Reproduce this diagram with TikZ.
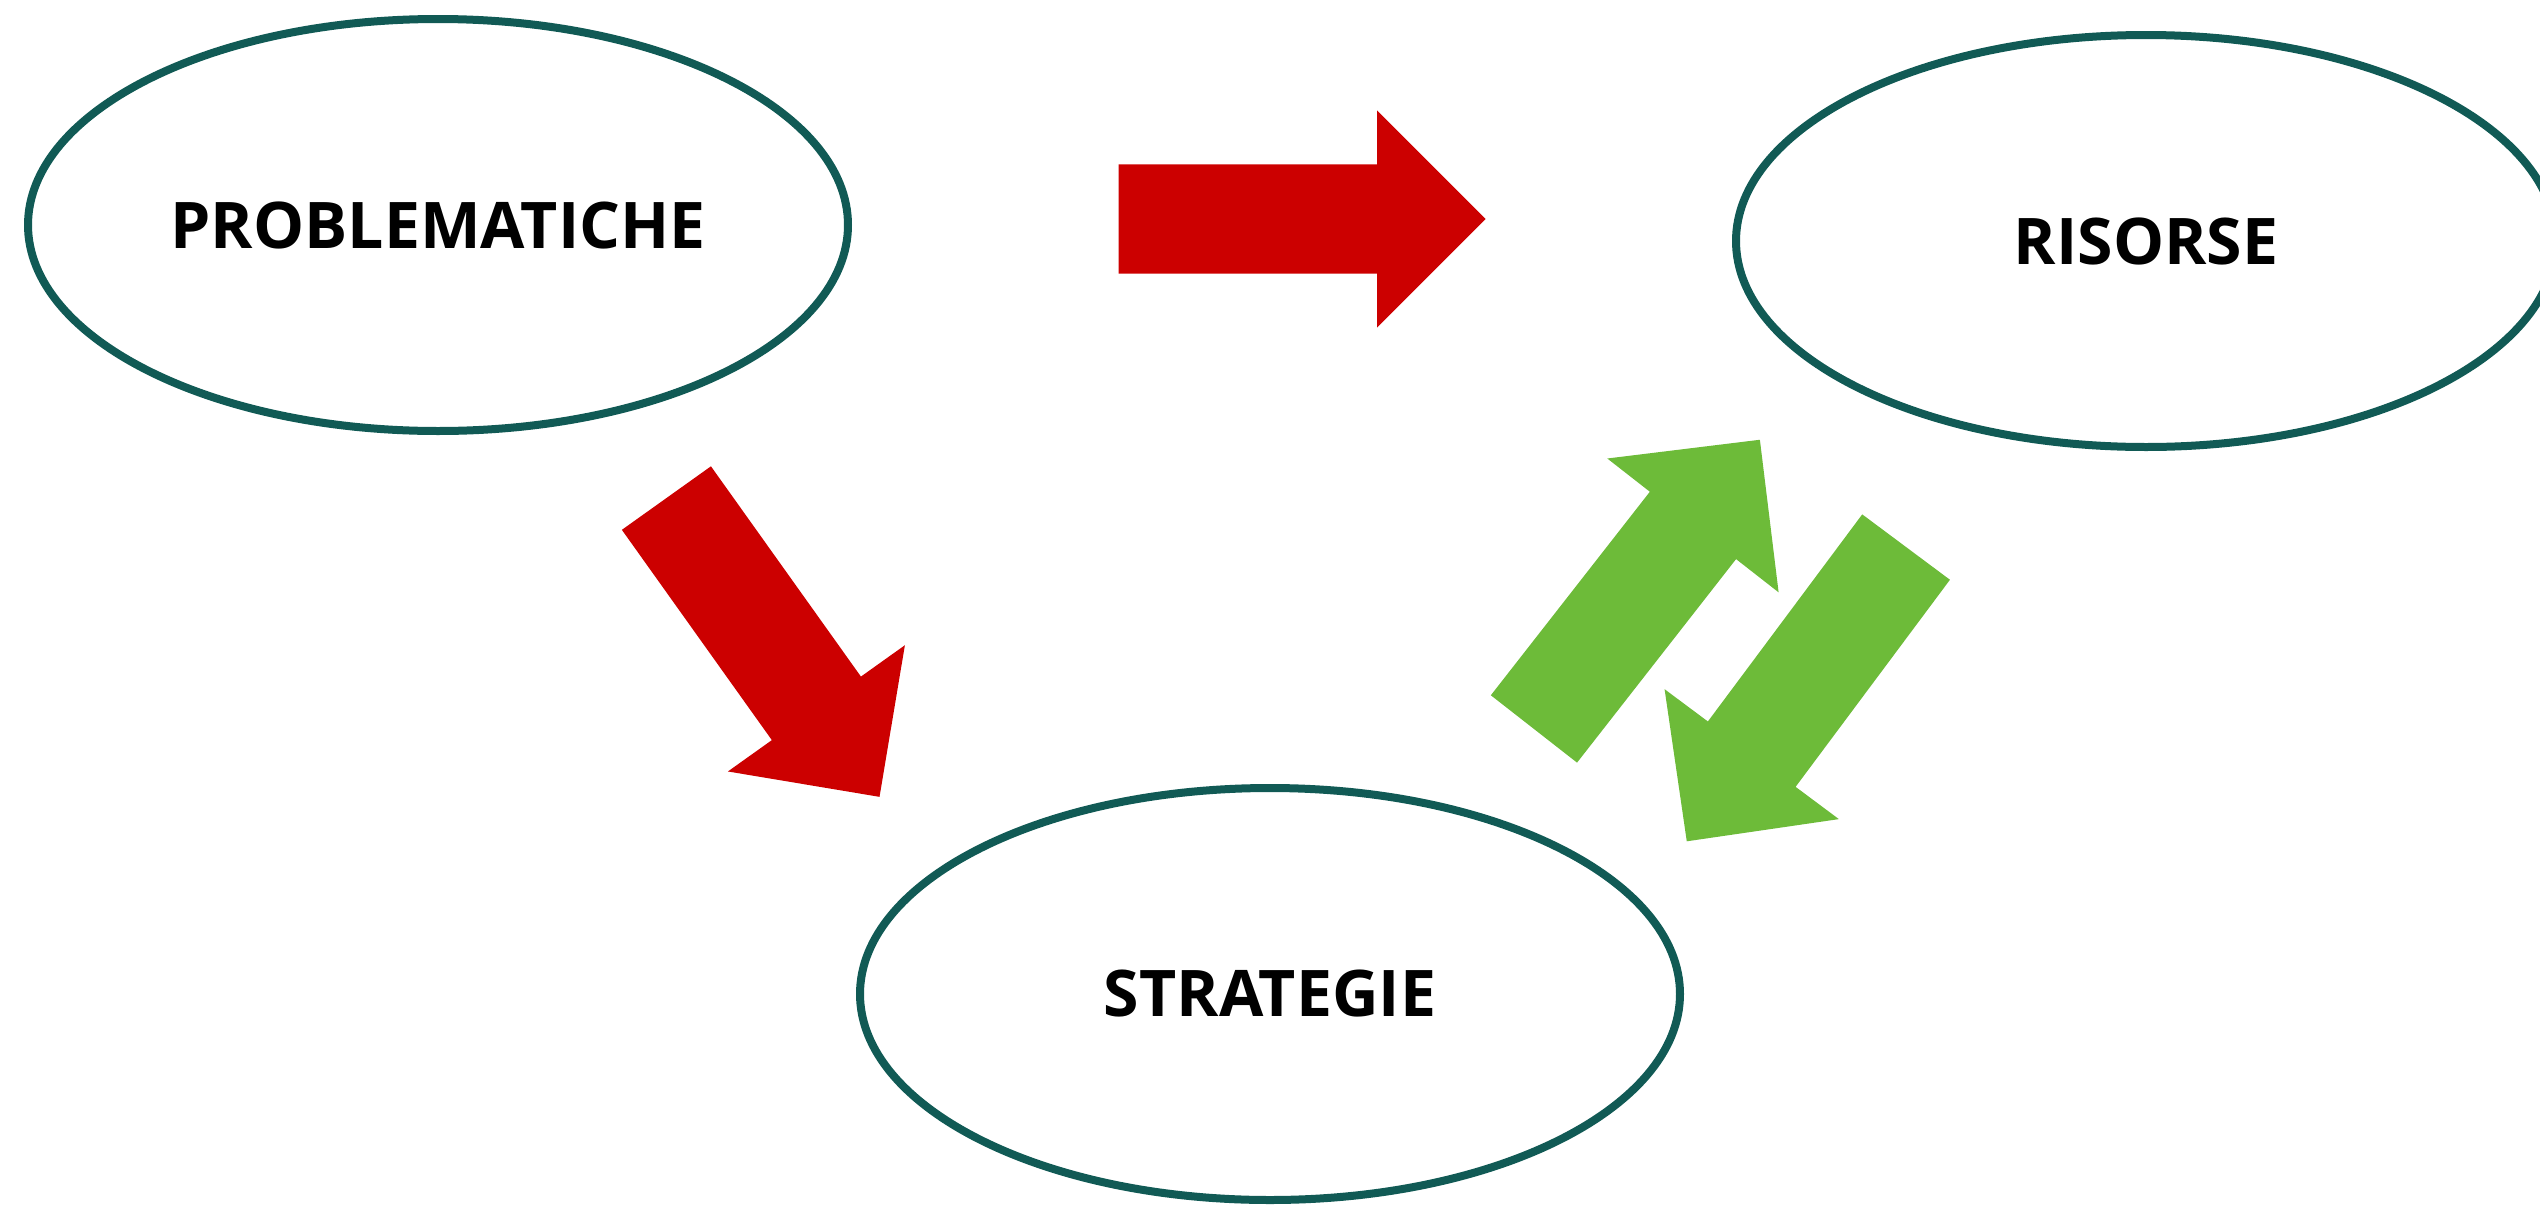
\documentclass[tikz,border=0pt]{standalone}
\usepackage{fontspec}
\setmainfont{Open Sans}
\usetikzlibrary{shapes.geometric,shapes.arrows}
\definecolor{bordo}{HTML}{115A55}
\definecolor{rosso}{HTML}{CC0000}
\definecolor{verde}{HTML}{6DBB39}
\begin{document}
\begin{tikzpicture}[x=0.1mm,y=-0.1mm]
\tikzstyle{tema}=[ellipse,draw=bordo,line width=0.8mm,minimum width=82mm,minimum height=41.2mm,inner sep=0pt,font=\fontsize{18.3}{22}\selectfont\bfseries]
\tikzstyle{freccia}=[single arrow,minimum height=36.7mm,single arrow head extend=5.4mm,single arrow tip angle=90,inner xsep=0pt,inner ysep=5.4mm,anchor=tail]

\useasboundingbox (0,0) rectangle (2540,1208);

\node[tema] (prob) at (438,225) {PROBLEMATICHE};
\node[tema] (ris) at (2146,241) {RISORSE};
\node[tema] (strat) at (1270,994) {STRATEGIE};

% frecce rosse
\node[freccia,fill=rosso] (f1) at (1118,219) {};
\node[freccia,fill=rosso,rotate=-54.5] (f2) at (666,497.5) {};

% frecce verdi
\node[freccia,fill=verde,rotate=52] (f3) at (1533.5,729.5) {};
\node[freccia,fill=verde,rotate=-126.7] (f4) at (1906.5,546.5) {};

\end{tikzpicture}
\end{document}
